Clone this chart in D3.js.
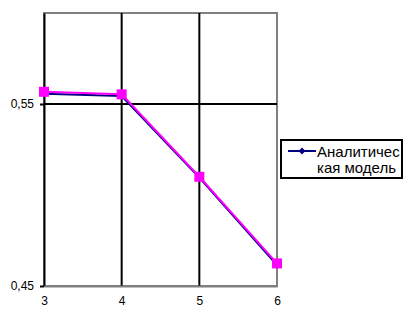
<!DOCTYPE html>
<html>
<head>
<meta charset="utf-8">
<script src="https://cdn.jsdelivr.net/npm/d3@7"></script>
<style>
  body { margin: 0; background: #fff; }
  text { font-family: "Liberation Sans", Arial, sans-serif; }
</style>
</head>
<body>
<div id="chart"></div>
<script>
var categories = [3, 4, 5, 6];
var analytic = [0.5556, 0.5544, 0.5096, 0.4615];
var simulated = [0.5567, 0.5553, 0.5100, 0.4624];
var yTicks = [0.45, 0.55];
var legendLines = ["Аналитичес", "кая модель"];

var svgWidth = 406;
var svgHeight = 316;
var margin = { top: 13, right: 130, bottom: 30, left: 44 };
var width = 277 - margin.left;
var height = 286 - margin.top;

var svg = d3.select("#chart")
  .append("svg")
  .attr("width", svgWidth)
  .attr("height", svgHeight);

var chartGroup = svg.append("g")
  .attr("transform", `translate(${margin.left},${margin.top})`);

var xScale = d3.scalePoint()
  .domain(categories)
  .range([0, width]);

var yScale = d3.scaleLinear()
  .domain([0.45, 0.6])
  .range([height, 0]);

// border of plot area
chartGroup.append("rect")
  .attr("x", 0).attr("y", 0)
  .attr("width", width).attr("height", height)
  .attr("fill", "none")
  .attr("stroke", "#808080")
  .attr("stroke-width", 2);

// vertical gridlines
chartGroup.append("g")
  .selectAll("line")
  .data(categories.slice(1, -1))
  .enter()
  .append("line")
  .attr("x1", d => xScale(d)).attr("x2", d => xScale(d))
  .attr("y1", 0).attr("y2", height)
  .attr("stroke", "#000")
  .attr("stroke-width", 2);

// horizontal gridline
chartGroup.append("g")
  .selectAll("line")
  .data(yTicks.slice(1))
  .enter()
  .append("line")
  .attr("x1", 0).attr("x2", width)
  .attr("y1", d => yScale(d)).attr("y2", d => yScale(d))
  .attr("stroke", "#000")
  .attr("stroke-width", 2);

var leftAxis = d3.axisLeft(yScale)
  .tickValues(yTicks)
  .tickSizeInner(4)
  .tickSizeOuter(0)
  .tickFormat(d => d3.format(".2f")(d).replace(".", ","));

var yAxis = chartGroup.append("g").call(leftAxis);
yAxis.select(".domain").attr("stroke", "#000").attr("stroke-width", 2);
yAxis.selectAll(".tick line").attr("stroke", "#000").attr("stroke-width", 2);
yAxis.selectAll("text")
  .attr("font-size", "12px")
  .attr("fill", "#000")
  .attr("x", -10);

var bottomAxis = d3.axisBottom(xScale).tickSize(0).tickPadding(10);
var xAxis = chartGroup.append("g")
  .attr("transform", `translate(0, ${height})`)
  .call(bottomAxis);
xAxis.select(".domain").attr("stroke", "#808080").attr("stroke-width", 2);
xAxis.selectAll("text").attr("font-size", "12px").attr("fill", "#000");

var line = d3.line()
  .x((d, i) => xScale(categories[i]))
  .y(d => yScale(d));

// analytic series (navy, diamonds)
chartGroup.append("path")
  .datum(analytic)
  .attr("d", line)
  .attr("fill", "none")
  .attr("stroke", "#000080")
  .attr("stroke-width", 2);

chartGroup.append("g")
  .selectAll("path")
  .data(analytic)
  .enter()
  .append("path")
  .attr("d", d3.symbol().type(d3.symbolDiamond2).size(30))
  .attr("transform", (d, i) => `translate(${xScale(categories[i])},${yScale(d)})`)
  .attr("fill", "#000080");

// second series (magenta, squares)
chartGroup.append("path")
  .datum(simulated)
  .attr("d", line)
  .attr("fill", "none")
  .attr("stroke", "#ff00ff")
  .attr("stroke-width", 2);

chartGroup.append("g")
  .selectAll("rect")
  .data(simulated)
  .enter()
  .append("rect")
  .attr("x", (d, i) => xScale(categories[i]) - 5)
  .attr("y", d => yScale(d) - 5)
  .attr("width", 10)
  .attr("height", 10)
  .attr("fill", "#ff00ff");

// legend
var legend = svg.append("g").attr("transform", "translate(281,140)");
legend.append("rect")
  .attr("x", 0).attr("y", 0)
  .attr("width", 121).attr("height", 38)
  .attr("fill", "#fff")
  .attr("stroke", "#000")
  .attr("stroke-width", 2);
legend.append("line")
  .attr("x1", 7).attr("x2", 35)
  .attr("y1", 11).attr("y2", 11)
  .attr("stroke", "#000080")
  .attr("stroke-width", 2);
legend.append("path")
  .attr("d", d3.symbol().type(d3.symbolDiamond2).size(30))
  .attr("transform", "translate(21,11)")
  .attr("fill", "#000080");
legend.selectAll("text.lg")
  .data(legendLines)
  .enter()
  .append("text")
  .attr("class", "lg")
  .attr("x", 36)
  .attr("y", (d, i) => 17 + i * 16)
  .attr("font-size", "15px")
  .attr("fill", "#000")
  .text(d => d);
</script>
</body>
</html>
